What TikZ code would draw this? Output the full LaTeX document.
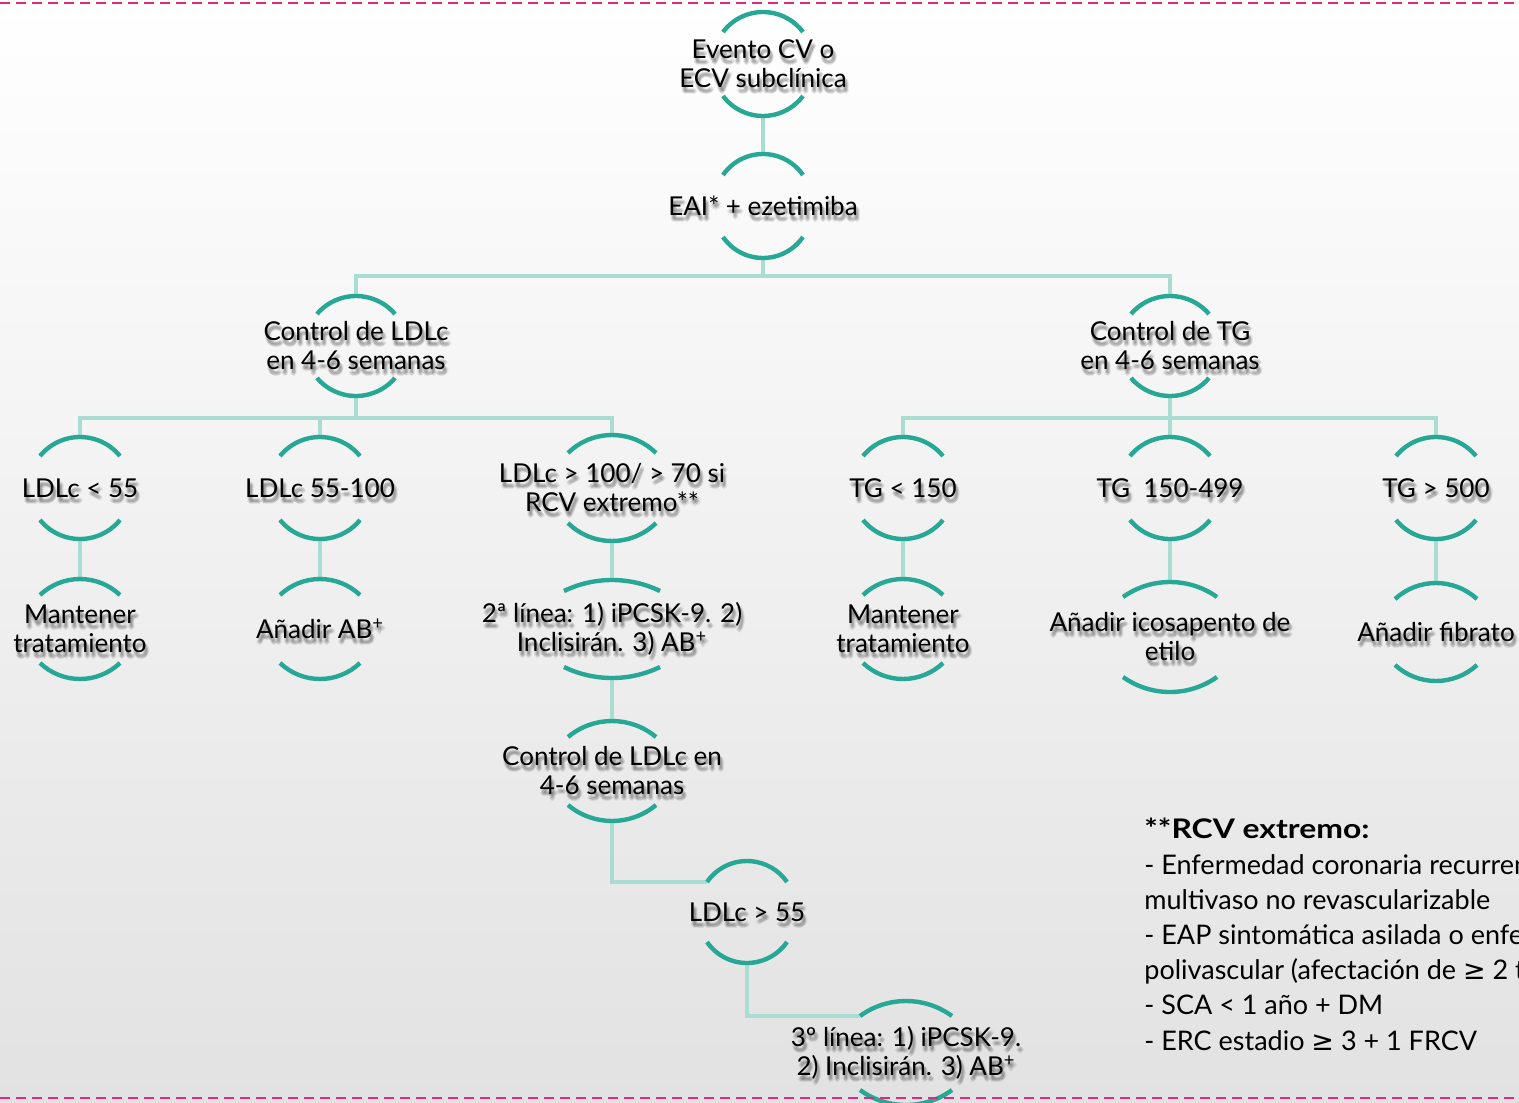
\documentclass[tikz,border=0pt]{standalone}
\usepackage{fontspec}
\setmainfont{Lato}
\newfontfamily\symfont{DejaVu Sans}
\newfontfamily\widefont{Lato}[FakeStretch=1.18]
\usetikzlibrary{calc}

\definecolor{capteal}{RGB}{38,168,148}
\definecolor{linkteal}{RGB}{170,221,209}
\definecolor{dashpink}{RGB}{226,40,128}
\definecolor{bottomgray}{RGB}{226,226,226}

\pgfdeclarelayer{back}
\pgfdeclarelayer{links}
\pgfsetlayers{back,links,main}

\tikzset{
  captext/.style={align=center, inner sep=0pt, text=black,
    font=\fontsize{13}{14.5}\selectfont},
  capshadow/.style={captext, text=black, text opacity=0.065},
  capline/.style={draw=capteal, line width=2.2pt},
  link/.style={draw=linkteal, line width=2pt},
  pinkdash/.style={draw=dashpink, line width=1pt, dash pattern=on 5pt off 3pt},
  legendtext/.style={align=left, inner sep=0pt, anchor=north west,
    font=\fontsize{13.5}{17.6}\selectfont}
}

% #1 name, #2 centre, #3 half chord of the caps, #4 cap sagitta,
% #5 distance from the centre to the top of a cap, #6 text
\newcommand\capnode[6]{%
  \foreach \sx/\sy in {1/-4,3/-4,2/-5,1/-6,3/-6,2/-7,2/-3,0/-5,4/-5}
    {\node[capshadow] at ($(#2)+(\sx,\sy)$) {#6};}
  \node[captext] (#1) at (#2) {#6};
  \pgfmathsetmacro\capr{(#3*#3+#4*#4)/(2*#4)}
  \pgfmathsetmacro\capa{asin(#3/\capr)}
  \draw[capline] ($(#1)+(-#3,#5-#4)$) arc[start angle=90+\capa, end angle=90-\capa, radius=\capr];
  \draw[capline] ($(#1)+(-#3,-#5+#4)$) arc[start angle=270-\capa, end angle=270+\capa, radius=\capr];
  \coordinate (#1-top) at ($(#1)+(0,#5)$);
  \coordinate (#1-bot) at ($(#1)+(0,-#5)$);
  \coordinate (#1-tl) at ($(#1)+(-#3,#5-#4)$);
}

\begin{document}
\begin{tikzpicture}[x=0.5pt,y=0.5pt]
\useasboundingbox (0,0) rectangle (1519,-1102);
\clip (0,0) rectangle (1519,-1102);

\begin{pgfonlayer}{back}
  \shade[top color=white, middle color=white, bottom color=bottomgray]
    (0,0) rectangle (1519,-1102);
\end{pgfonlayer}

% tree
\capnode{start}{763,-64}{40}{20}{52}{Evento CV o\\ECV subclínica}
\capnode{eai}{763,-206}{40}{21}{52}{EAI* + ezetimiba}
\capnode{ctlldl}{356,-346}{39}{18}{50}{Control de LDLc\\en 4-6 semanas}
\capnode{ctltg}{1170,-346}{39}{18}{50}{Control de TG\\en 4-6 semanas}

\capnode{ldlA}{80,-488}{40}{19}{51}{LDLc < 55}
\capnode{ldlB}{320,-488}{40}{19}{51}{LDLc 55-100}
\capnode{ldlC}{612,-488}{44}{18}{53}{LDLc > 100/ > 70 si\\RCV extremo**}
\capnode{tgA}{903,-488}{40}{19}{51}{TG < 150}
\capnode{tgB}{1170,-488}{40}{19}{51}{TG~~150-499}
\capnode{tgC}{1436,-488}{40}{19}{51}{TG > 500}

\capnode{keepA}{80,-629}{40}{16}{50}{Mantener\\tratamiento}
\capnode{addAB}{320,-629}{40}{16}{50}{Añadir AB\textsuperscript{+}}
\capnode{second}{612,-629}{48}{11}{49}{2ª línea: 1) iPCSK-9. 2)\\Inclisirán. 3) AB\textsuperscript{+}}
\capnode{keepB}{903,-629}{40}{16}{50}{Mantener\\tratamiento}
\capnode{icosa}{1170,-637}{47}{15}{55}{Añadir icosapento de\\etilo}
\capnode{fibr}{1436,-632}{41}{16}{49}{Añadir fibrato}

\capnode{ctlagain}{612,-771}{44}{16}{50}{Control de LDLc en\\4-6 semanas}
\capnode{ldlhigh}{747,-912}{40}{21}{51}{LDLc > 55}
\capnode{third}{906,-1053}{46}{15}{52}{3º línea: 1) iPCSK-9.\\2) Inclisirán. 3) AB\textsuperscript{+}}

% connectors
\begin{pgfonlayer}{links}
  \draw[link] (start-bot) -- (eai-top);
  \draw[link] (eai-bot) -- ++(0,-18) -| (ctlldl-top);
  \draw[link] (eai-bot) -- ++(0,-18) -| (ctltg-top);
  \draw[link] (ctlldl-bot) -- ++(0,-22) -| (ldlA-top);
  \draw[link] (ctlldl-bot) -- ++(0,-22) -| (ldlB-top);
  \draw[link] (ctlldl-bot) -- ++(0,-22) -| (ldlC-top);
  \draw[link] (ctltg-bot) -- ++(0,-22) -| (tgA-top);
  \draw[link] (ctltg-bot) -- ++(0,-22) -| (tgB-top);
  \draw[link] (ctltg-bot) -- ++(0,-22) -| (tgC-top);
  \draw[link] (ldlA-bot) -- (keepA-top);
  \draw[link] (ldlB-bot) -- (addAB-top);
  \draw[link] (ldlC-bot) -- (second-top);
  \draw[link] (tgA-bot) -- (keepB-top);
  \draw[link] (tgB-bot) -- (icosa-top);
  \draw[link] (tgC-bot) -- (fibr-top);
  \draw[link] (second-bot) -- (ctlagain-top);
  \draw[link] (ctlagain-bot) |- (ldlhigh-tl);
  \draw[link] (ldlhigh-bot) |- (third-tl);
\end{pgfonlayer}

% footnote on extreme cardiovascular risk
\node[legendtext] (legend) at (1144,-818)
  {{\widefont\bfseries **RCV extremo:}\\
   - Enfermedad coronaria recurrente\\
   multivaso no revascularizable\\
   - EAP sintomática asilada o enfermedad\\
   polivascular (afectación de {\symfont ≥} 2 territorios)\\
   - SCA < 1 año + DM\\
   - ERC estadio {\symfont ≥} 3 + 1 FRCV};

% dashed frame lines
\draw[pinkdash] (0,-3) -- (1519,-3);
\draw[pinkdash] (0,-1098) -- (1519,-1098);
\end{tikzpicture}
\end{document}
